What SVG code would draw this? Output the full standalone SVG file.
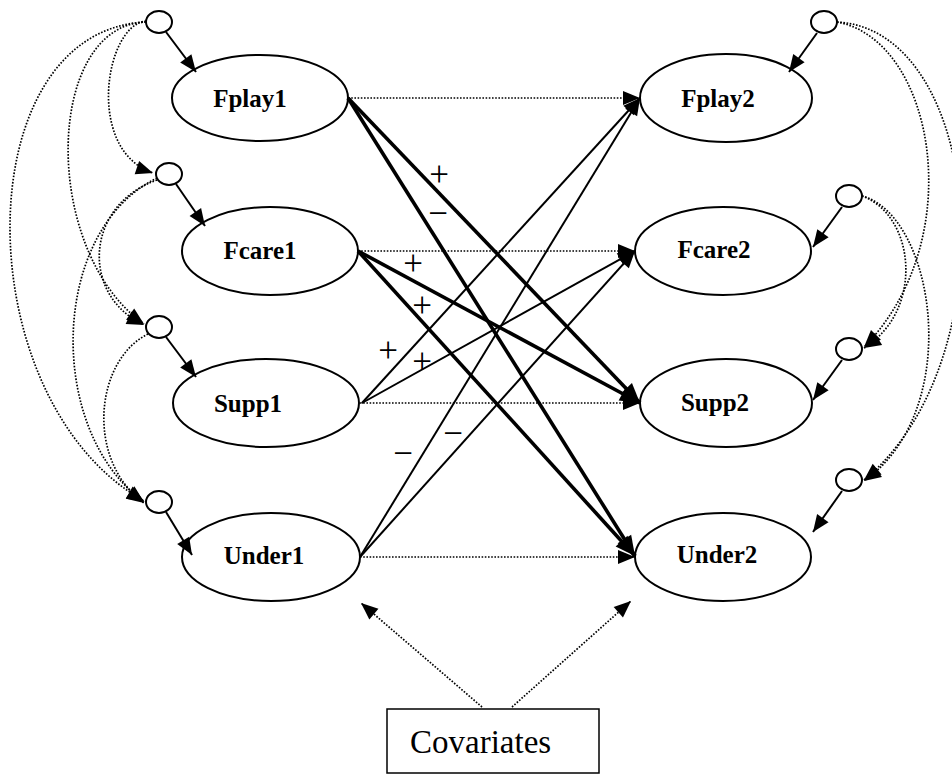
<svg xmlns="http://www.w3.org/2000/svg" width="952" height="775" viewBox="0 0 952 775">
<defs>
<style>
.node ellipse{fill:#fff;stroke:#000;stroke-width:2}
.err ellipse{fill:#fff;stroke:#000;stroke-width:2}
.lbl{font-family:"Liberation Serif","Times New Roman",serif;font-weight:bold;font-size:25px;text-anchor:middle;fill:#000}
.dot{fill:none;stroke:#000;stroke-width:1.7;stroke-dasharray:1.6 1.6}
.thin{fill:none;stroke:#000;stroke-width:2}
.thick{fill:none;stroke:#000;stroke-width:3.6}
.sign{font-family:"Liberation Serif","Times New Roman",serif;font-size:35px;text-anchor:middle;fill:#000}
.cov{font-family:"Liberation Serif","Times New Roman",serif;font-size:33px;fill:#000}
</style>
<marker id="ah" markerUnits="userSpaceOnUse" markerWidth="18" markerHeight="14" refX="17" refY="7" orient="auto" overflow="visible"><path d="M0,0 L17,7 L0,14 z" fill="#000"/></marker>
<marker id="ahk" markerUnits="userSpaceOnUse" markerWidth="21" markerHeight="16" refX="20" refY="8" orient="auto" overflow="visible"><path d="M0,0 L20,8 L0,16 z" fill="#000"/></marker>
</defs>
<rect width="952" height="775" fill="#fff"/>

<g id="Fplay1" class="node"><ellipse cx="260" cy="98" rx="88" ry="43"/><text class="lbl" x="250" y="107">Fplay1</text></g>
<g id="Fcare1" class="node"><ellipse cx="270" cy="251" rx="88" ry="44"/><text class="lbl" x="260" y="259">Fcare1</text></g>
<g id="Supp1" class="node"><ellipse cx="266" cy="403" rx="93" ry="44"/><text class="lbl" x="248" y="412">Supp1</text></g>
<g id="Under1" class="node"><ellipse cx="271" cy="557" rx="89" ry="44"/><text class="lbl" x="264" y="564">Under1</text></g>
<g id="Fplay2" class="node"><ellipse cx="726" cy="98" rx="86" ry="44"/><text class="lbl" x="718" y="107">Fplay2</text></g>
<g id="Fcare2" class="node"><ellipse cx="723" cy="251" rx="88" ry="44"/><text class="lbl" x="714" y="258">Fcare2</text></g>
<g id="Supp2" class="node"><ellipse cx="726" cy="403" rx="86" ry="44"/><text class="lbl" x="715" y="411">Supp2</text></g>
<g id="Under2" class="node"><ellipse cx="723" cy="557" rx="88" ry="44"/><text class="lbl" x="717" y="563">Under2</text></g>

<g id="e1" class="err"><ellipse cx="159" cy="22" rx="13" ry="11"/></g>
<g id="e2" class="err"><ellipse cx="169" cy="174" rx="13" ry="11"/></g>
<g id="e3" class="err"><ellipse cx="159" cy="327" rx="13" ry="11"/></g>
<g id="e4" class="err"><ellipse cx="159" cy="502" rx="13" ry="11"/></g>
<g id="r1" class="err"><ellipse cx="824" cy="22" rx="13" ry="11"/></g>
<g id="r2" class="err"><ellipse cx="849" cy="196" rx="13" ry="11"/></g>
<g id="r3" class="err"><ellipse cx="849" cy="349" rx="13" ry="11"/></g>
<g id="r4" class="err"><ellipse cx="849" cy="480" rx="13" ry="11"/></g>

<g id="Covariates"><rect x="387" y="709" width="212" height="64" fill="#fff" stroke="#000" stroke-width="1.5"/><text class="cov" x="410" y="753">Covariates</text></g>

<g id="connectors">
<!-- error to latent -->
<line class="thin" x1="166" y1="32" x2="196" y2="72" marker-end="url(#ah)"/>
<line class="thin" x1="176" y1="184" x2="205" y2="226" marker-end="url(#ah)"/>
<line class="thin" x1="166" y1="337" x2="196" y2="377" marker-end="url(#ah)"/>
<line class="thin" x1="166" y1="512" x2="192" y2="555" marker-end="url(#ah)"/>
<line class="thin" x1="817" y1="33" x2="789" y2="72" marker-end="url(#ah)"/>
<line class="thin" x1="842" y1="207" x2="813" y2="247" marker-end="url(#ah)"/>
<line class="thin" x1="842" y1="360" x2="813" y2="400" marker-end="url(#ah)"/>
<line class="thin" x1="842" y1="491" x2="813" y2="532" marker-end="url(#ah)"/>

<!-- left residual correlations -->
<path class="dot" d="M146,21 C105,25 85,150 153,173" marker-end="url(#ah)"/>
<path class="dot" d="M146,22 C45,25 40,250 144,324" marker-end="url(#ah)"/>
<path class="dot" d="M146,22 C-35,30 -35,400 144,501" marker-end="url(#ah)"/>
<path class="dot" d="M157,180 C85,205 80,295 144,325" marker-end="url(#ah)"/>
<path class="dot" d="M157,178 C50,230 45,430 144,502" marker-end="url(#ah)"/>
<path class="dot" d="M148,334 C95,360 85,460 144,503" marker-end="url(#ah)"/>

<!-- right residual correlations -->
<path class="dot" d="M837,22 C935,40 970,240 864,347" marker-end="url(#ah)"/>
<path class="dot" d="M837,22 C985,30 1010,360 864,480" marker-end="url(#ah)"/>
<path class="dot" d="M862,196 C915,215 925,310 864,348" marker-end="url(#ah)"/>
<path class="dot" d="M862,196 C935,215 965,410 864,481" marker-end="url(#ah)"/>

<!-- stability paths -->
<line class="dot" x1="348" y1="98" x2="640" y2="98" marker-end="url(#ah)"/>
<line class="dot" x1="358" y1="251" x2="635" y2="251" marker-end="url(#ah)"/>
<line class="dot" x1="360" y1="403" x2="640" y2="403" marker-end="url(#ah)"/>
<line class="dot" x1="360" y1="557" x2="635" y2="557" marker-end="url(#ah)"/>

<!-- cross-lagged thick -->
<line class="thick" x1="348" y1="98" x2="640" y2="403" marker-end="url(#ahk)"/>
<line class="thick" x1="348" y1="98" x2="635" y2="556" marker-end="url(#ahk)"/>
<line class="thick" x1="358" y1="251" x2="640" y2="403" marker-end="url(#ahk)"/>
<line class="thick" x1="358" y1="251" x2="635" y2="556" marker-end="url(#ahk)"/>

<!-- cross-lagged thin -->
<line class="thin" x1="362" y1="403" x2="640" y2="98" marker-end="url(#ah)"/>
<line class="thin" x1="362" y1="403" x2="635" y2="251" marker-end="url(#ah)"/>
<line class="thin" x1="360" y1="557" x2="640" y2="98" marker-end="url(#ah)"/>
<line class="thin" x1="360" y1="557" x2="635" y2="251" marker-end="url(#ah)"/>

<!-- covariates -->
<line class="dot" x1="482" y1="707" x2="361" y2="603" marker-end="url(#ah)"/>
<line class="dot" x1="512" y1="707" x2="631" y2="601" marker-end="url(#ah)"/>
</g>

<g id="signs">
<text class="sign" x="439" y="186">+</text>
<text class="sign" x="438" y="225">−</text>
<text class="sign" x="413" y="275">+</text>
<text class="sign" x="422" y="317">+</text>
<text class="sign" x="388" y="362">+</text>
<text class="sign" x="422" y="373">+</text>
<text class="sign" x="453" y="445">−</text>
<text class="sign" x="403" y="465">−</text>
</g>
</svg>
